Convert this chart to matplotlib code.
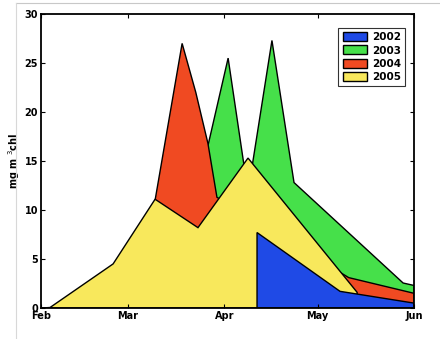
import matplotlib
matplotlib.use("Agg")
import matplotlib.pyplot as plt
from matplotlib.lines import Line2D
import datetime as dt
import matplotlib.dates as mdates

# Day offsets from 1 Feb and chlorophyll values (mg m^-3)
days_2002 = [69.5, 69.5, 96.2, 120.0]
chl_2002 = [0.0, 7.7, 1.7, 0.5]

days_2003 = [28.0, 47.5, 60.2, 66.6, 74.3, 81.4, 116.5, 120.0]
chl_2003 = [1.0, 8.0, 25.5, 11.8, 27.3, 12.8, 2.55, 2.3]

days_2004 = [25.0, 36.7, 45.4, 49.8, 53.7, 56.6, 99.0, 120.0]
chl_2004 = [2.0, 11.0, 27.0, 22.0, 16.8, 11.3, 3.1, 1.5]

days_2005 = [0.0, 2.9, 23.2, 36.7, 50.5, 66.6, 101.7]
chl_2005 = [0.0, 0.05, 4.5, 11.1, 8.2, 15.3, 1.6]

years = ["2002", "2003", "2004", "2005"]
colors = {"2002": "#1f4ae6", "2003": "#46e04a", "2004": "#f04a22", "2005": "#f8e85c"}
series = {"2002": (days_2002, chl_2002), "2003": (days_2003, chl_2003),
          "2004": (days_2004, chl_2004), "2005": (days_2005, chl_2005)}
draw_order = ["2003", "2004", "2005", "2002"]

start = dt.date(2006, 2, 1)
month_ticks = [dt.date(2006, m, 1) for m in (2, 3, 4, 5, 6)]
month_labels = ["Feb", "Mar", "Apr", "May", "Jun"]

def to_num(days):
    base = mdates.date2num(start)
    return [base + d for d in days]

fig = plt.figure(figsize=(4.4, 3.39), dpi=100)
ax = fig.add_axes([41/440, 1 - 308/339, (414-41)/440, (308-14)/339])

handles = {}
for y in draw_order:
    d, v = series[y]
    x = to_num(d)
    xs = [x[0]] + x + [x[-1]]
    vs = [0.0] + v + [0.0]
    h = ax.fill(xs, vs, facecolor=colors[y], edgecolor="black", linewidth=1.0)[0]
    handles[y] = h

ax.set_xlim(mdates.date2num(month_ticks[0]), mdates.date2num(month_ticks[-1]))
ax.set_ylim(0, 30)
ax.set_xticks([mdates.date2num(t) for t in month_ticks])
ax.set_xticklabels(month_labels)
ax.set_yticks([0, 5, 10, 15, 20, 25, 30])
ax.tick_params(axis="both", direction="in", length=3, width=0.8,
               top=True, right=True, labelsize=7, pad=2)
for lab in ax.get_xticklabels() + ax.get_yticklabels():
    lab.set_fontweight("bold")
for sp in ax.spines.values():
    sp.set_linewidth(1.3)

ax.set_ylabel("mg m $^{3}$chl", fontsize=7, fontweight="bold", labelpad=2)

leg = ax.legend([handles[y] for y in years], years, loc="upper right",
                bbox_to_anchor=(0.976, 0.952), fontsize=7.5, frameon=True,
                fancybox=False, edgecolor="black", handlelength=2.3,
                handleheight=0.95, labelspacing=0.3, borderpad=0.4,
                handletextpad=0.5, borderaxespad=0.0)
leg.get_frame().set_linewidth(0.8)
for t in leg.get_texts():
    t.set_fontweight("bold")

# faint page border of the screenshot
fig.add_artist(Line2D([16/440, 1], [1 - 3/339, 1 - 3/339], color="#c8c8c8", lw=0.8))
fig.add_artist(Line2D([16/440, 16/440], [0, 1 - 3/339], color="#d8d8d8", lw=0.8))

fig.savefig("out.png", dpi=100)
